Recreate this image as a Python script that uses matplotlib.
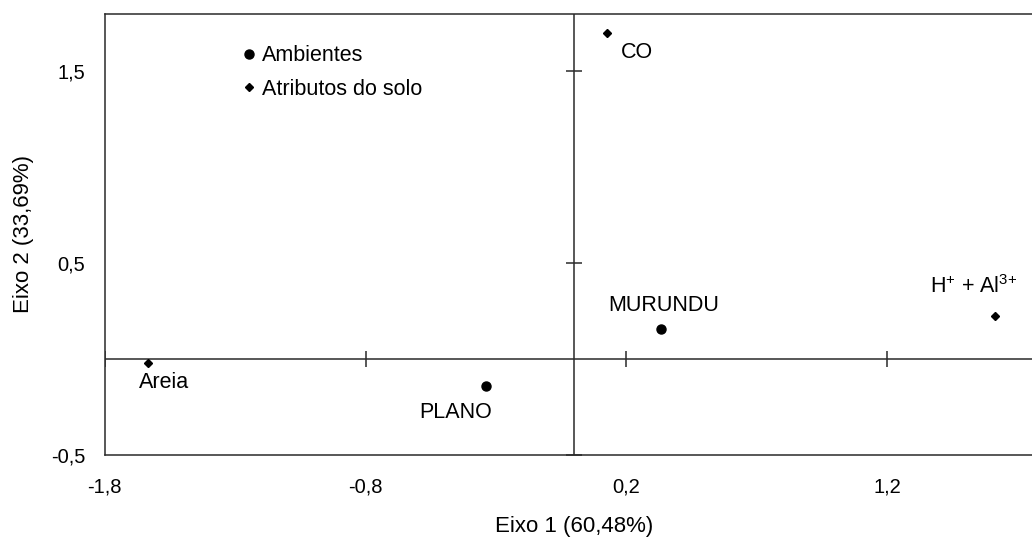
"""Biplot of the first two axes (ambientes x atributos do solo)."""

import matplotlib
matplotlib.use("Agg")
import matplotlib.pyplot as plt

plt.rcParams["font.family"] = ["Liberation Sans", "DejaVu Sans"]
plt.rcParams["mathtext.fontset"] = "custom"
plt.rcParams["mathtext.rm"] = "Liberation Sans"

# ambientes (circles)
amb_names = ["MURUNDU", "PLANO"]
amb_x = [0.333, -0.339]
amb_y = [0.156, -0.143]

# atributos do solo (diamonds)
attr_names = ["CO", r"H$^{+}$ + Al$^{3{+}}$", "Areia"]
attr_x = [0.126, 1.612, -1.636]
attr_y = [1.698, 0.224, -0.021]

xticks = [-1.8, -0.8, 0.2, 1.2]
xticklabels = ["-1,8", "-0,8", "0,2", "1,2"]
yticks = [-0.5, 0.5, 1.5]
yticklabels = ["-0,5", "0,5", "1,5"]

line_color = "#2a2a2a"

fig = plt.figure(figsize=(10.32, 5.38), dpi=100)
ax = fig.add_axes([0.1015, 0.1543, 0.910, 0.8203])
ax.set_xlim(-1.8, 1.8)
ax.set_ylim(-0.5, 1.8)

for sp in ax.spines.values():
    sp.set_color(line_color)
    sp.set_linewidth(1.1)

ax.set_xticks(xticks)
ax.set_xticklabels(xticklabels)
ax.set_yticks(yticks)
ax.set_yticklabels(yticklabels)
ax.tick_params(length=0, labelsize=14.5)
ax.tick_params(axis="x", pad=16)
ax.tick_params(axis="y", pad=14)

# cross-hair through the origin with its own tick marks
ax.axhline(0, color=line_color, lw=1.1, zorder=1)
ax.axvline(0, color=line_color, lw=1.1, zorder=1)
ax.plot(xticks, [0] * len(xticks), linestyle="none", marker="|",
        markersize=12, markeredgewidth=1.1, color=line_color)
ax.plot([0] * len(yticks), yticks, linestyle="none", marker="_",
        markersize=12, markeredgewidth=1.1, color=line_color)

ax.plot(amb_x, amb_y, linestyle="none", marker="o", markersize=6.5,
        color="black", label="Ambientes", zorder=3)
ax.plot(attr_x, attr_y, linestyle="none", marker="D", markersize=4,
        color="black", label="Atributos do solo", zorder=3)

# point labels (offsets in points)
label_offsets = {
    "MURUNDU": (-38, 17),
    "PLANO": (-48, -19),
    "CO": (10, -14),
    r"H$^{+}$ + Al$^{3{+}}$": (-47, 21),
    "Areia": (-6, -14),
}
for name, x, y in zip(amb_names + attr_names, amb_x + attr_x, amb_y + attr_y):
    dx, dy = label_offsets[name]
    ax.annotate(name, (x, y), xytext=(dx, dy), textcoords="offset points",
                ha="left", va="center", fontsize=15.5)

ax.legend(loc="upper left", bbox_to_anchor=(0.138, 0.948), frameon=False,
          fontsize=15.5, handlelength=0.6, handletextpad=0.3,
          labelspacing=0.58, borderaxespad=0)

ax.set_xlabel("Eixo 1 (60,48%)", fontsize=16, labelpad=14)
ax.set_ylabel("Eixo 2 (33,69%)", fontsize=16, labelpad=12)

plt.savefig("out.png", dpi=100)
plt.close()
